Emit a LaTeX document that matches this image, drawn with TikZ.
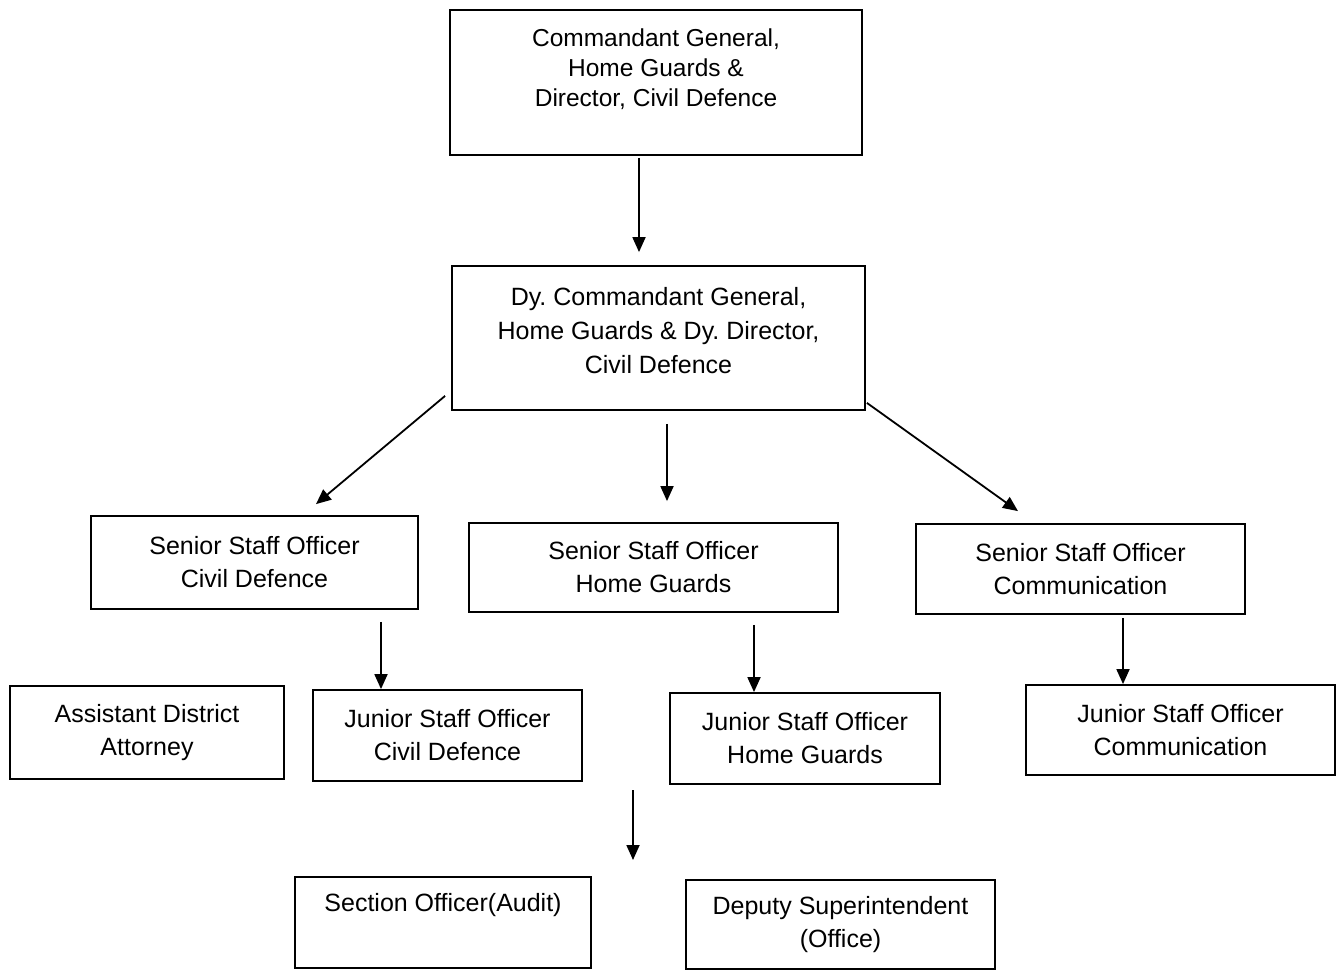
\documentclass[tikz,border=0pt]{standalone}
\usepackage{fontspec}
\setmainfont{Liberation Sans}
\usetikzlibrary{arrows.meta}
\begin{document}
\frenchspacing
\begin{tikzpicture}[x=1pt,y=-1pt,line width=1.8pt,>={Triangle[length=15pt,width=13pt]}]
	\useasboundingbox (0,0) rectangle (1339,971);
	\begin{scope}[line width=1.8pt]
		\tikzstyle{every node}=[draw,shape=rectangle,align=center,inner sep=0pt,line width=1.8pt,font=\fontsize{25}{33}\selectfont];
		\path (656  ,  82.5) node [minimum width=412pt,minimum height=145pt,font=\fontsize{24.5}{30}\selectfont] (cg) {Commandant General,\\Home Guards \&\\Director, Civil Defence\\~};
		\path (658.5, 338  ) node [minimum width=413pt,minimum height=144pt,font=\fontsize{25}{34}\selectfont] (dcg) {Dy. Commandant General,\\Home Guards \& Dy. Director,\\Civil Defence\\[-18pt]~};
		\path (254.5, 562.5) node [minimum width=327pt,minimum height=93pt] (sscd) {Senior Staff Officer\\Civil Defence};
		\path (653.5, 567.5) node [minimum width=369pt,minimum height=89pt] (sshg) {Senior Staff Officer\\Home Guards};
		\path (1080.5,569  ) node [minimum width=329pt,minimum height=90pt] (sscom) {Senior Staff Officer\\Communication};
		\path (147  , 732.5) node [minimum width=274pt,minimum height=93pt] (ada) {Assistant District\\Attorney};
		\path (447.5, 735.5) node [minimum width=269pt,minimum height=91pt] (jscd) {Junior Staff Officer\\Civil Defence};
		\path (805  , 738.5) node [minimum width=270pt,minimum height=91pt] (jshg) {Junior Staff Officer\\Home Guards};
		\path (1180.5,730  ) node [minimum width=309pt,minimum height=90pt] (jscom) {Junior Staff Officer\\Communication};
		\path (443  , 922.5) node [minimum width=296pt,minimum height=91pt] (soa) {Section Officer(Audit)\\[8pt]~};
		\path (840.5, 924.5) node [minimum width=309pt,minimum height=89pt] (dso) {Deputy Superintendent\\(Office)};
	\end{scope}
	\path (633,790) coordinate (split) (633,860) coordinate (join);
	\draw[->] ([xshift=-17pt,yshift=-2pt]cg.south) -- ([xshift=-19.5pt,yshift=13pt]dcg.north);
	\draw[->] ([xshift=-6pt,yshift=15pt]dcg.south west) -- ([xshift=61.5pt,yshift=11pt]sscd.north);
	\draw[->] ([xshift=8.5pt,yshift=-13pt]dcg.south) -- ([xshift=13.5pt,yshift=21pt]sshg.north);
	\draw[->] ([xshift=1pt,yshift=8pt]dcg.south east) -- ([xshift=-62.5pt,yshift=12pt]sscom.north);
	\draw[->] ([xshift=126.5pt,yshift=-12pt]sscd.south) -- ([xshift=-66.5pt]jscd.north);
	\draw[->] ([xshift=100.5pt,yshift=-12pt]sshg.south) -- ([xshift=-51pt]jshg.north);
	\draw[->] ([xshift=42.5pt,yshift=-3pt]sscom.south) -- ([xshift=-57.5pt]jscom.north);
	\draw[->] (split) -- (join);
\end{tikzpicture}
\end{document}
